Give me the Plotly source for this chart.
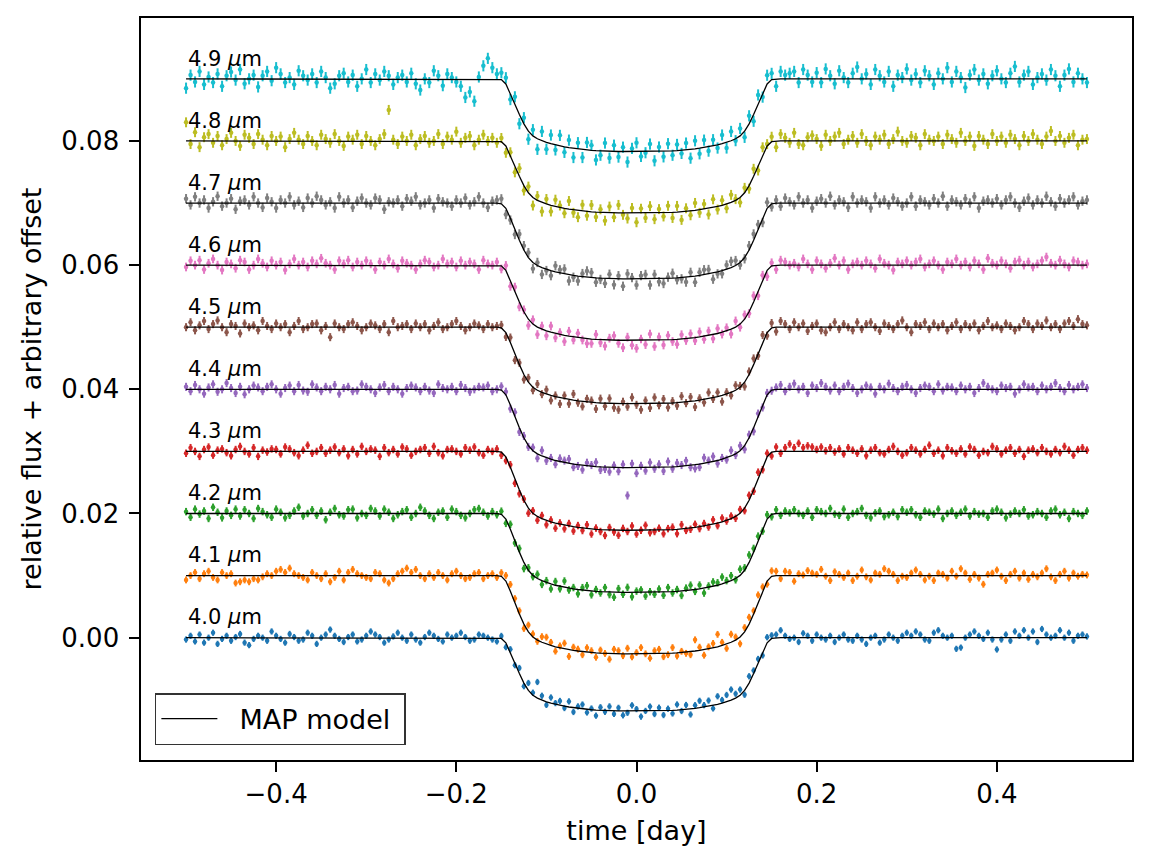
import numpy as np
import plotly.graph_objects as go

# ---------------- data ----------------
WAVELENGTHS = ["4.0", "4.1", "4.2", "4.3", "4.4", "4.5", "4.6", "4.7", "4.8", "4.9"]
OFFSETS = [0.00, 0.01, 0.02, 0.03, 0.04, 0.05, 0.06, 0.07, 0.08, 0.09]
COLORS = ["#1f77b4", "#ff7f0e", "#2ca02c", "#d62728", "#9467bd",
          "#8c564b", "#e377c2", "#7f7f7f", "#bcbd22", "#17becf"]
ERR = [5, 5.5, 6, 6, 6.5, 6.5, 7, 7.5, 8, 9]            # error bar half-size, 1e-4
DEPTH = [0.0118, 0.0126, 0.0127, 0.0127, 0.0126, 0.0123, 0.0121, 0.0122, 0.0116, 0.0117]
FLUX_UNIT = 1e-4
TIME = np.linspace(-0.5, 0.5, 201)                      # observation cadence [day]

TRANSIT_SHAPE = [
    0.01, 0.07, 0.20, 0.35, 0.49, 0.62, 0.72, 0.785, 0.825, 0.852,
    0.875, 0.893, 0.91, 0.923, 0.935, 0.946, 0.955, 0.964, 0.972, 0.978,
    0.984, 0.988, 0.992, 0.995, 0.997, 0.998,
    1, 1, 1, 1, 1, 1, 1, 1, 1,
    0.998, 0.997, 0.995, 0.992, 0.988, 0.984, 0.978, 0.972, 0.964, 0.955,
    0.946, 0.935, 0.923, 0.91, 0.893, 0.875, 0.852, 0.825, 0.785, 0.72,
    0.62, 0.49, 0.35, 0.20, 0.07, 0.01]
MODEL_SHAPE = [0] * 70 + TRANSIT_SHAPE + [0] * 70

# residuals of each light curve about the MAP model (units of 1e-4)
RESID_40 = [
    -3,3,-6,5,-8,0,8,-10,-2,3, -5,1,6,-8,-12,-2,3,0,-5,10, 3,-2,-8,6,1,-5,-3,8,3,-10,
    0,5,13,3,-2,-7,1,5,-6,-3, 3,10,5,1,-8,-3,2,8,0,-5, 5,-3,-8,1,8,3,-2,-6,5,0,
    3,8,1,-5,-3,5,3,0,-3,-6, 4,-7,5,-3,9,-5,12,4,26,7, -5,9,2,7,-3,9,-7,3,7,-5,
    2,-9,5,-2,7,-5,5,-7,-3,9, 3,-9,0,7,-5,5,-7,3,-5,9, -2,7,-9,5,11,3,9,-5,13,5,
    11,17,7,9,-7,11,5,7,-5,9, 5,5,12,3,-2,0,-7,7,3,-5, 5,0,-3,3,-7,0,5,-3,-5,3,
    -3,-10,0,3,-8,-3,5,0,-5,3, 8,3,10,5,-3,-5,8,12,3,0, 3,-18,-16,0,5,10,3,-2,8,-3,
    -19,-3,5,-5,10,3,12,0,10,-7, 14,5,0,3,12,0,8,-5,3,5, 2]
RESID_41 = [
    -7,0,5,-5,3,7,-3,-7,5,0, 3,-12,-10,-7,-10,-5,-7,-2,3,0, 7,10,5,12,3,0,-3,-7,5,0,
    -5,3,-10,-3,7,-7,5,10,3,0, -3,-5,5,3,-7,-12,-5,3,7,12, 5,10,0,-5,3,-3,5,0,-7,3,
    7,0,-5,-3,3,5,-5,0,3,-3, 6,9,11,7,5,-7,11,5,-2,9, 11,5,-7,3,9,-11,5,3,-5,7,
    3,-7,5,0,-9,7,5,-3,9,-5, 2,10,0,-7,5,7,-5,-2,9,-5, 2,-2,-5,18,5,-9,3,7,20,5,
    -7,13,5,-11,7,11,5,13,7,-5, 9,7,-5,7,5,-9,3,1,8,4, 2,10,-1,-8,6,2,-3,4,-8,-1,
    9,-2,-7,4,2,11,7,2,-8,-1, -3,4,9,2,-7,-1,-8,4,2,-4, 7,-1,11,4,-6,2,-4,-14,2,4,
    9,-1,-8,2,7,-4,4,-6,2,-2, 4,11,-2,-8,2,7,-4,4,-1,2, 1]
RESID_42 = [
    3,-6,7,-1,4,-8,10,2,-7,4, -3,7,-4,6,0,-8,8,3,-2,-6, 7,2,-7,-3,4,10,-4,0,6,-3,
    4,-10,2,8,-2,-4,6,7,-7,0, -3,8,4,-4,7,2,-8,-2,3,6, -6,0,10,4,-3,-8,2,4,-6,7,
    3,-3,-7,0,6,8,2,-4,3,-2, 5,-7,8,-3,6,-10,4,-2,7,-6, 3,-8,6,-4,10,-3,2,-7,4,8,
    -6,3,-2,7,-4,-8,6,-3,8,-7, 2,4,-6,1,-3,5,-5,7,-2,3, -7,4,8,-3,6,-8,2,7,4,11,
    3,8,-2,10,4,12,6,8,-3,7, -4,6,-3,4,1,6,0,-3,4,-6, 6,3,0,8,-1,-3,7,-6,0,3,
    8,-3,-7,1,4,-5,-2,2,-5,6, 2,6,-2,-6,4,2,-1,7,-8,0, 4,-3,2,7,-4,3,-1,0,-6,4,
    7,2,-7,-1,4,0,6,-4,-2,3, 0,-6,4,7,-2,2,-8,3,0,-3, 4]
RESID_43 = [
    -3,6,0,-8,3,7,-6,2,4,-2, -7,3,8,0,-4,6,-8,2,-1,4, 3,-4,7,4,-2,-7,2,10,-3,0,
    6,-3,2,7,-2,4,-7,3,-4,8, 0,4,2,-8,6,-2,3,-4,7,4, -6,0,3,6,-3,8,-2,-7,3,4,
    0,-4,6,2,7,-2,-6,3,0,4, -5,-6,4,-7,-6,2,-8,4,-6,5, -7,3,-8,2,-6,4,-7,3,-4,6,
    -8,2,-3,-9,4,-3,-8,3,-2,7, -6,0,8,-4,-2,3,-6,2,4,-7, 7,-3,-2,5,-3,4,-3,7,-4,6,
    -1,4,-3,6,-4,8,-2,11,-4,6, -6,7,-3,6,12,6,13,6,9,7, 3,7,1,6,-1,4,-4,6,2,-3,
    4,-7,2,6,-2,-4,3,8,0,-6, -2,6,2,-4,3,10,-3,2,-7,6, 1,-3,4,-4,7,3,-6,0,-2,8,
    4,-4,2,6,-3,3,-8,2,4,-2, 6,0,-4,3,-2,8,2,-6,3,6, 2]
RESID_44 = [
    4,-3,7,0,-7,3,8,-4,0,10, 2,-6,4,-8,0,6,3,-3,4,8, 0,-7,2,6,-3,7,-2,-4,8,3,
    -3,4,0,7,-7,2,4,-3,-2,8, 4,0,-6,3,7,-3,4,0,-7,2, 6,3,-3,4,-2,-6,8,2,0,4,
    -3,7,2,-4,0,4,3,6,-3,0, 6,5,-6,7,-7,3,-2,5,-7,9, -5,2,-6,5,3,7,-5,-2,-7,5,
    2,7,-5,-3,-7,3,-6,5,-45,6, -9,3,-5,8,-2,5,-6,9,-3,6, 2,8,-3,-6,-5,9,3,8,-5,2,
    -3,9,-2,8,-6,5,-6,5,-4,3, -1,3,7,-3,4,9,0,4,-6,6, 2,10,4,-2,6,-3,4,9,2,-6,
    0,6,3,-7,4,0,9,2,-3,4, 7,0,-6,2,6,4,-3,8,-2,4, 3,-3,6,0,4,-6,2,10,4,0,
    -3,6,2,4,-7,0,8,3,4,-3, 6,0,4,10,2,-3,7,0,4,8, 2]
RESID_45 = [
    0,8,-5,3,10,-3,5,11,0,-8, 5,2,-10,6,0,3,-5,10,2,-3, 6,0,5,-8,2,10,-3,0,5,6,
    -5,2,-16,6,0,-3,5,8,2,-5, 0,6,3,-3,5,-8,10,0,2,5, -3,6,0,5,-5,2,8,-3,0,5,
    10,2,-5,0,6,3,-3,5,0,2, 5,-7,8,-10,3,-8,7,-5,10,-3, 7,-8,2,-10,5,-7,10,-3,-8,5,
    3,-10,7,-5,8,-7,-10,3,-5,10, -2,-10,5,-7,10,-3,7,-7,3,-5, 10,-2,7,-10,3,-5,10,-2,7,-10,
    3,-5,8,2,-7,5,10,-3,12,-5, 8,-7,10,5,-3,8,0,6,-6,2, 6,-5,-8,0,8,-3,5,0,-5,8,
    -3,5,8,0,-6,6,2,-3,5,11, 0,-8,5,2,8,-3,6,0,5,-5, 2,8,-3,5,0,6,-5,2,10,0,
    3,-3,6,2,-5,0,10,5,-3,6, 2,11,0,5,-3,6,10,2,13,5, 3]
RESID_46 = [
    -3,7,0,8,-7,3,10,0,-8,5, 2,-5,8,5,-7,0,10,3,-3,7, 0,5,-8,2,10,0,5,-3,7,2,
    11,3,0,-7,7,2,8,-3,5,0, 7,2,-7,5,0,10,2,-5,7,3, 0,-7,2,8,5,-3,0,10,2,5,
    -3,7,0,5,2,-7,8,2,0,5, -5,8,-10,7,-8,3,-10,7,-12,5, -8,10,-7,3,-10,8,-5,7,-3,-8,
    -7,8,-5,-10,3,7,-5,-12,5,-8, -13,2,-7,10,-10,5,-8,7,-3,-8, 7,-3,7,-5,8,-5,7,-7,8,-3,
    5,-8,10,-5,7,-3,10,-7,8,-10, 5,-7,8,5,0,3,-3,10,2,-7, 7,2,-5,3,11,0,7,-7,2,5,
    0,7,2,-5,10,3,0,-8,5,2, 7,0,5,10,-3,2,7,0,-7,5, 2,10,0,5,-3,7,2,-7,11,3,
    0,7,2,-5,5,8,0,5,-3,2, 7,13,3,0,8,2,-3,7,5,0, 2]
RESID_47 = [
    7,-3,10,0,5,-8,2,11,-5,0, 7,-10,3,5,-3,10,0,-7,8,2, -8,5,0,10,-3,3,-7,8,0,11,
    5,-3,2,-8,10,0,5,-7,3,8, 0,-3,8,5,-10,2,0,5,-5,7, 3,10,-3,0,5,-8,7,2,0,-5,
    5,0,8,-3,2,10,0,-7,3,5, 8,-10,-3,-8,10,7,8,-10,5,-11, -2,-8,10,5,8,-10,-3,-8,5,10,
    8,-7,-2,-8,7,-10,5,-12,8,2, -10,5,7,-10,7,-5,-8,2,8,-3, -2,-8,7,-10,5,8,7,-10,-3,-5,
    7,10,8,-4,-2,7,10,8,-7,10, -5,5,-5,8,2,-3,10,0,5,-8, 3,7,0,11,-3,5,2,-7,10,0,
    5,2,-8,10,0,5,-3,8,2,-5, 0,10,-5,5,2,-3,7,0,11,-5, 5,2,-3,7,0,10,-8,3,5,0,
    7,-3,5,10,0,-7,3,8,-3,5, 0,11,2,-5,7,0,5,10,-3,3, 5]
RESID_48 = [
    30,-5,14,-10,6,11,-3,8,-7,3, 13,0,-8,10,5,-5,11,2,-7,8, 0,7,-10,3,13,2,-5,8,0,-7,
    10,3,-3,11,0,-8,7,2,10,-5, 8,0,-7,3,11,50,2,-5,7,0, 10,-7,3,8,-3,0,11,-5,7,2,
    15,-3,5,8,-7,2,10,0,5,-3, 6,-11,5,-10,13,-8,10,-13,7,-15, 8,-10,11,3,-8,13,-5,-11,10,-7,
    11,-8,5,-13,10,-7,13,-3,-9,8, -15,7,-8,11,-10,6,-6,11,-9,10, -13,5,-7,12,-5,8,-10,13,-5,8,
    -7,12,2,-8,8,-5,12,-7,13,3, 8,-10,11,5,-3,13,-5,-7,6,9, 3,-8,10,0,7,13,-5,2,8,-3,
    11,0,-7,7,2,10,-5,3,15,0, -3,8,5,-7,11,2,0,7,-5,10, 3,-3,13,0,7,-8,8,2,-5,11,
    0,7,-3,10,3,-7,8,0,11,2, -5,7,16,0,8,-3,5,10,-7,2, 3]
RESID_49 = [
    -15,6,-5,12,-9,3,-6,8,-12,5, 11,-2,15,-8,0,6,-13,5,12,-3, 18,8,-6,2,-9,13,5,-2,8,-6,
    12,2,-15,-8,5,9,-5,6,-12,0, 15,-6,8,-2,12,5,-9,2,6,-5, 9,-8,-18,0,-6,13,5,-11,8,2,
    -5,-12,-30,-21,-36,3,21,33,18,8, 11,10,-10,12,-15,10,-13,10,-17,15, -11,14,-8,17,-9,12,-15,10,-13,12,
    8,-15,-7,13,-11,10,-9,7,-17,5, 14,-8,-2,12,-15,7,-9,12,-7,10, -5,11,-14,13,-9,12,-7,10,-5,14,
    -9,15,-3,12,-10,13,-11,15,-6,14, 10,-12,12,6,9,12,-6,15,6,-5, 10,-6,16,5,-8,13,2,-6,9,19,
    0,8,-9,15,5,-5,12,-12,6,2, 16,-2,8,-6,13,5,-9,9,0,18, -5,12,2,-14,6,15,-2,8,-8,5,
    13,0,-6,9,20,-5,6,12,-9,2, 8,-2,15,5,-12,6,16,-5,9,0, -6]

RESIDS = [RESID_40, RESID_41, RESID_42, RESID_43, RESID_44,
          RESID_45, RESID_46, RESID_47, RESID_48, RESID_49]

X_TICKS = [-0.4, -0.2, 0.0, 0.2, 0.4]
X_TICKTEXT = ["\u22120.4", "\u22120.2", "0.0", "0.2", "0.4"]
Y_TICKS = [0.00, 0.02, 0.04, 0.06, 0.08]
Y_TICKTEXT = ["0.00", "0.02", "0.04", "0.06", "0.08"]

FONT = "DejaVu Sans"

# ---------------- figure ----------------
fig = go.Figure()
shape = np.asarray(MODEL_SHAPE, dtype=float)
n = len(TIME)

for off, dep, col, err, res in zip(OFFSETS, DEPTH, COLORS, ERR, RESIDS):
    r = np.zeros(n)
    m = min(n, len(res))
    r[:m] = np.asarray(res[:m], dtype=float)
    y = off - dep * shape + r * FLUX_UNIT
    fig.add_trace(go.Scatter(
        x=TIME, y=y, mode="markers",
        marker=dict(color=col, size=4.5),
        error_y=dict(type="constant", value=err * FLUX_UNIT, color=col,
                     thickness=2, width=0),
        showlegend=False, hoverinfo="skip"))

for k, (off, dep) in enumerate(zip(OFFSETS, DEPTH)):
    fig.add_trace(go.Scatter(
        x=TIME, y=off - dep * shape, mode="lines",
        line=dict(color="black", width=1.3),
        name="\u00a0\u00a0MAP model\u00a0", showlegend=(k == 0), hoverinfo="skip"))

for wl, off in zip(WAVELENGTHS, OFFSETS):
    fig.add_annotation(x=-0.5, y=off + 0.0010, xref="x", yref="y",
                       text=f"{wl} <i>\u03bc</i>m", showarrow=False,
                       xanchor="left", yanchor="bottom",
                       font=dict(family=FONT, size=21, color="black"))

axis_common = dict(showgrid=False, zeroline=False, showline=True, linecolor="black",
                   linewidth=2.2, mirror=True, ticks="outside", ticklen=9.5, tickwidth=2.2,
                   tickcolor="black", tickfont=dict(family=FONT, size=26, color="black"))

fig.update_layout(
    width=1152, height=865,
    margin=dict(l=141, r=20, t=18, b=105),
    paper_bgcolor="white", plot_bgcolor="white",
    font=dict(family=FONT, color="black"),
    xaxis=dict(range=[-0.55, 0.55], tickvals=X_TICKS, ticktext=X_TICKTEXT,
               title=dict(text="time [day]", font=dict(family=FONT, size=27), standoff=13),
               **axis_common),
    yaxis=dict(range=[-0.0197, 0.0998], tickvals=Y_TICKS, ticktext=Y_TICKTEXT,
               ticklabelstandoff=5,
               title=dict(text="relative flux + arbitrary offset",
                          font=dict(family=FONT, size=27), standoff=12),
               **axis_common),
    legend=dict(x=0.014, y=0.02, xanchor="left", yanchor="bottom",
                bgcolor="white", bordercolor="#333333", borderwidth=1.5,
                font=dict(family=FONT, size=27, color="black"),
                itemwidth=56),
)

fig.write_html("out.html")
